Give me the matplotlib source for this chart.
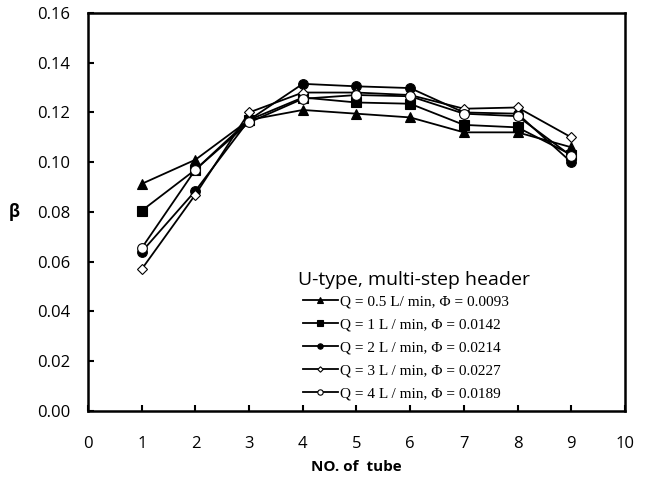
import matplotlib
matplotlib.use('Agg')
import matplotlib.pyplot as plt

plt.rcParams['font.family'] = ['Open Sans', 'DejaVu Sans']

tubes = [1, 2, 3, 4, 5, 6, 7, 8, 9]
beta_q05 = [0.0913, 0.101, 0.117, 0.121, 0.1195, 0.118, 0.112, 0.112, 0.106]
beta_q1 = [0.0805, 0.097, 0.117, 0.126, 0.124, 0.1235, 0.115, 0.114, 0.103]
beta_q2 = [0.064, 0.0885, 0.117, 0.1315, 0.1305, 0.1298, 0.120, 0.1195, 0.100]
beta_q3 = [0.057, 0.087, 0.120, 0.128, 0.128, 0.127, 0.1215, 0.122, 0.110]
beta_q4 = [0.0655, 0.097, 0.116, 0.1255, 0.127, 0.1265, 0.1195, 0.1185, 0.1025]
labels = ['Q = 0.5 L/ min, \u03a6 = 0.0093',
          'Q = 1 L / min, \u03a6 = 0.0142',
          'Q = 2 L / min, \u03a6 = 0.0214',
          'Q = 3 L / min, \u03a6 = 0.0227',
          'Q = 4 L / min, \u03a6 = 0.0189']

fig = plt.figure(figsize=(6.54, 4.79), dpi=100)
ax = fig.add_axes([0.1346, 0.142, 0.821, 0.831])

styles = [('^', 'black', 7), ('s', 'black', 7), ('o', 'black', 7), ('D', 'white', 5), ('o', 'white', 7)]
series = [beta_q05, beta_q1, beta_q2, beta_q3, beta_q4]
for ys, (m, fc, ms), lab in zip(series, styles, labels):
    ax.plot(tubes, ys, color='black', lw=1.3, marker=m, ms=ms, mfc=fc, mec='black', mew=0.8, label=lab)

ax.set_xlim(0, 10)
ax.set_ylim(0, 0.16)
ax.set_xticks(range(0, 11))
ax.set_yticks([i * 0.02 for i in range(9)])
ax.set_yticklabels([f'{i * 0.02:.2f}' for i in range(9)])
ax.tick_params(direction='in', length=4, width=1.5, labelsize=12)
ax.tick_params(axis='x', pad=18)
ax.tick_params(axis='y', pad=13)
for s in ax.spines.values():
    s.set_linewidth(1.8)
ax.set_xlabel('NO. of  tube', fontsize=11, fontweight='bold', labelpad=6)
ax.set_ylabel('\u03b2', fontsize=12, fontweight='bold', rotation=0, labelpad=16, va='center')

ax.text(0.391, 0.329, 'U-type, multi-step header', transform=ax.transAxes,
        fontsize=14, ha='left', va='center')
leg = ax.legend(loc='upper left', bbox_to_anchor=(0.4, 0.291), frameon=False,
                prop={'family': 'Liberation Serif', 'size': 11}, handlelength=2.3,
                handletextpad=0.15, labelspacing=0.6, markerscale=0.55,
                borderpad=0, borderaxespad=0)

fig.savefig('out.png', dpi=100)
